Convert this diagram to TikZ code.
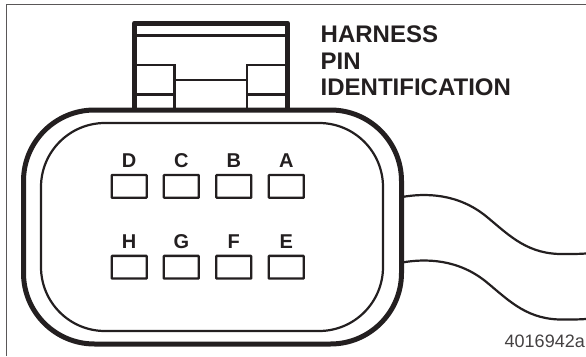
\documentclass[tikz,border=0pt]{standalone}
\usepackage{fontspec}
\setmainfont{Liberation Sans}
\definecolor{ink}{HTML}{231F20}
\tikzset{
 pinbox/.style={draw=ink,line width=2.3pt,minimum width=35pt,minimum height=22.7pt,inner sep=0pt,rounded corners=0.6pt},
 pinlabel/.style={font=\fontsize{20}{20}\selectfont\bfseries,text=ink,inner sep=0pt,anchor=base},
 thick line/.style={draw=ink,line width=5pt,line join=round},
 thin line/.style={draw=ink,line width=2.2pt},
 wire/.style={draw=ink,line width=2.2pt},
 frame line/.style={draw=ink!75,line width=1.3pt},
 title text/.style={font=\fontsize{24}{26.5}\selectfont\bfseries,text=ink,anchor=base west,inner sep=0pt}
}
\begin{document}
\begin{tikzpicture}[x=1pt,y=-1pt]
\useasboundingbox (0,0) rectangle (586,356);
% frame
\draw[frame line] (6.5,356) -- (6.5,4.5) -- (586,4.5);
% tab
\draw[thin line] (136,35.5) -- (286,35.5);
\draw[thin line] (136,65) -- (174.5,65) -- (174.5,110);
\draw[thin line] (136,94.5) -- (174.5,94.5);
\draw[thin line] (174.5,80) -- (247,80);
\draw[thin line] (247,110) -- (247,65) -- (286,65);
\draw[thin line] (247,94.5) -- (286,94.5);
\draw[thick line] (134.5,110) -- (134.5,23) -- (287.5,23) -- (287.5,110);
% body
\draw[thick line,rounded corners=71pt] (23.5,110) rectangle (401.5,344);
\draw[thin line,rounded corners=64pt] (41,123) rectangle (383,331);
% wires
\coordinate (w1s) at (402,197);
\coordinate (w2s) at (402,262.5);
\draw[wire] (w1s) .. controls (425,193) and (458,193) .. (487,217) .. controls (510,236) and (528,255) .. (565,254) .. controls (573,254) and (580,254) .. (586,253.5);
\draw[wire] (w2s) .. controls (425,258.5) and (458,258.5) .. (487,282.5) .. controls (510,301.5) and (528,320.5) .. (565,319.5) .. controls (573,319.5) and (580,319.5) .. (586,319);
% pins
\foreach \n/\t/\x/\y in {pd/D/129.2/186.4,pc/C/181.3/186.4,pb/B/233.8/186.4,pa/A/286.3/186.4,ph/H/129.2/267.2,pg/G/181.3/267.2,pf/F/233.8/267.2,pe/E/286.3/267.2}{
  \node[pinbox] (\n) at (\x,\y) {};
  \node[pinlabel] (l\n) at ([yshift=6.7pt]\n.north) {\t};
}
% text
\node[title text] (title) at (320.5,42.7) {HARNESS};
\node[title text] (title2) at (320.5,69.3) {PIN};
\node[title text] (title3) at (320.5,95.7) {IDENTIFICATION};
\node[font=\fontsize{18}{18}\selectfont,text=ink!85,anchor=base east,inner sep=0pt] (code) at (585,347.5) {4016942a};
\end{tikzpicture}
\end{document}
